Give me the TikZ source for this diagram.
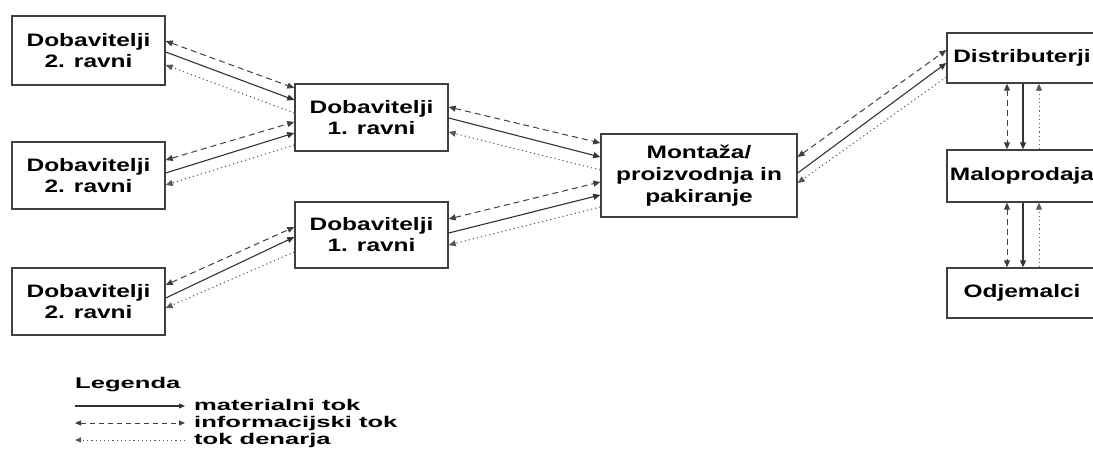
\documentclass[tikz,border=0pt]{standalone}
\usepackage{fontspec}
\setmainfont{Liberation Sans}
\newfontfamily\boxfont{Liberation Sans Bold}[FakeStretch=1.36]
\newfontfamily\legfont{Liberation Sans Bold}[FakeStretch=1.65]
\usetikzlibrary{arrows.meta,calc}
\begin{document}
\begin{tikzpicture}[x=1pt,y=-1pt,
  box/.style={draw=black!75, line width=1.4pt, fill=white, inner sep=0pt, align=center,
    font=\boxfont\fontsize{18}{21}\selectfont},
  mat/.style={draw=black!80, line width=1.1pt, -{Triangle[length=7pt,width=6pt]}},
  info/.style={draw=black!75, line width=1pt, dash pattern=on 6pt off 4pt,
    {Triangle[length=7pt,width=6pt]}-{Triangle[length=7pt,width=6pt]}},
  money/.style={draw=black!65, line width=1pt, dash pattern=on 1.2pt off 3pt,
    -{Triangle[length=7pt,width=6pt]}},
  leg/.style={anchor=base west, inner sep=0pt, font=\legfont\fontsize{15.5}{17}\selectfont}
]
\useasboundingbox (0,0) rectangle (1093,463);
\clip (0,0) rectangle (1093,463);
\fill[white] (0,0) rectangle (1093,463);

% boxes
\node[box, minimum width=153pt, minimum height=69pt] (s2a) at (88.5,50.5) {Dobavitelji\\2. ravni};
\node[box, minimum width=153pt, minimum height=67pt] (s2b) at (88.5,175.5) {Dobavitelji\\2. ravni};
\node[box, minimum width=153pt, minimum height=67pt] (s2c) at (88.5,301.5) {Dobavitelji\\2. ravni};
\node[box, minimum width=153pt, minimum height=67pt] (s1a) at (371.5,117.5) {Dobavitelji\\1. ravni};
\node[box, minimum width=153pt, minimum height=66pt] (s1b) at (371.5,235) {Dobavitelji\\1. ravni};
\node[box, minimum width=196pt, minimum height=83pt, font=\boxfont\fontsize{18}{22}\selectfont] (mont) at (699,175.5) {Montaža/\\proizvodnja in\\pakiranje};
\node[box, minimum width=150pt, minimum height=50pt] (dist) at (1022,58) {Distributerji};
\node[box, minimum width=150pt, minimum height=52pt] (malo) at (1022,176) {Maloprodaja};
\node[box, minimum width=150pt, minimum height=50pt] (odj) at (1022,293) {Odjemalci};

% S2a - S1a
\draw[info] ($(s2a.east)+(0,-9.5)$) -- ($(s1a.west)+(0,-29.5)$);
\draw[mat] ($(s2a.east)+(0,1.5)$) -- ($(s1a.west)+(0,-17.5)$);
\draw[money] ($(s1a.west)+(0,-4.5)$) -- ($(s2a.east)+(0,14.5)$);
% S2b - S1a
\draw[info] ($(s2b.east)+(0,-15.5)$) -- ($(s1a.west)+(0,4.5)$);
\draw[mat] ($(s2b.east)+(0,-2.5)$) -- ($(s1a.west)+(0,15.5)$);
\draw[money] ($(s1a.west)+(0,27.5)$) -- ($(s2b.east)+(0,9.5)$);
% S2c - S1b
\draw[info] ($(s2c.east)+(0,-16.5)$) -- ($(s1b.west)+(0,-8)$);
\draw[mat] ($(s2c.east)+(0,-3.5)$) -- ($(s1b.west)+(0,2)$);
\draw[money] ($(s1b.west)+(0,17)$) -- ($(s2c.east)+(0,6.5)$);
% S1a - mont
\draw[info] ($(s1a.east)+(0,-10.5)$) -- ($(mont.west)+(0,-32.5)$);
\draw[mat] ($(s1a.east)+(0,0.5)$) -- ($(mont.west)+(0,-18.5)$);
\draw[money] ($(mont.west)+(0,-5.5)$) -- ($(s1a.east)+(0,14.5)$);
% S1b - mont
\draw[info] ($(s1b.east)+(0,-16)$) -- ($(mont.west)+(0,6.5)$);
\draw[mat] ($(s1b.east)+(0,-2)$) -- ($(mont.west)+(0,19.5)$);
\draw[money] ($(mont.west)+(0,31.5)$) -- ($(s1b.east)+(0,10)$);
% mont - dist
\draw[info] ($(mont.east)+(0,-18.5)$) -- ($(dist.west)+(0,-8)$);
\draw[mat] ($(mont.east)+(0,-2.5)$) -- ($(dist.west)+(0,5)$);
\draw[money] ($(dist.west)+(0,19)$) -- ($(mont.east)+(0,7.5)$);
% dist - malo
\draw[info] ($(dist.south)+(-15,0)$) -- ($(malo.north)+(-15,0)$);
\draw[mat] ($(dist.south)+(1,0)$) -- ($(malo.north)+(1,0)$);
\draw[money] ($(malo.north)+(17,0)$) -- ($(dist.south)+(17,0)$);
% malo - odj
\draw[info] ($(malo.south)+(-15,0)$) -- ($(odj.north)+(-15,0)$);
\draw[mat] ($(malo.south)+(1,0)$) -- ($(odj.north)+(1,0)$);
\draw[money] ($(odj.north)+(17,0)$) -- ($(malo.south)+(17,0)$);

% legend
\node[leg] (legt) at (75,388) {Legenda};
\coordinate (l1a) at (75,406); \coordinate (l1b) at (185,406);
\coordinate (l2a) at (75,423); \coordinate (l2b) at (185,423);
\coordinate (l3a) at (75,440); \coordinate (l3b) at (185,440);
\draw[mat, -{Triangle[length=6pt,width=5pt]}] (l1a) -- (l1b);
\draw[info, dash pattern=on 5pt off 4pt, {Triangle[length=6pt,width=5pt]}-{Triangle[length=6pt,width=5pt]}] (l2a) -- (l2b);
\draw[money, -{Triangle[length=6pt,width=5pt]}] (l3b) -- (l3a);
\node[leg] (t1) at (194,410.7) {materialni tok};
\node[leg] (t2) at (194,427.3) {informacijski tok};
\node[leg] (t3) at (194,444) {tok denarja};
\end{tikzpicture}
\end{document}
